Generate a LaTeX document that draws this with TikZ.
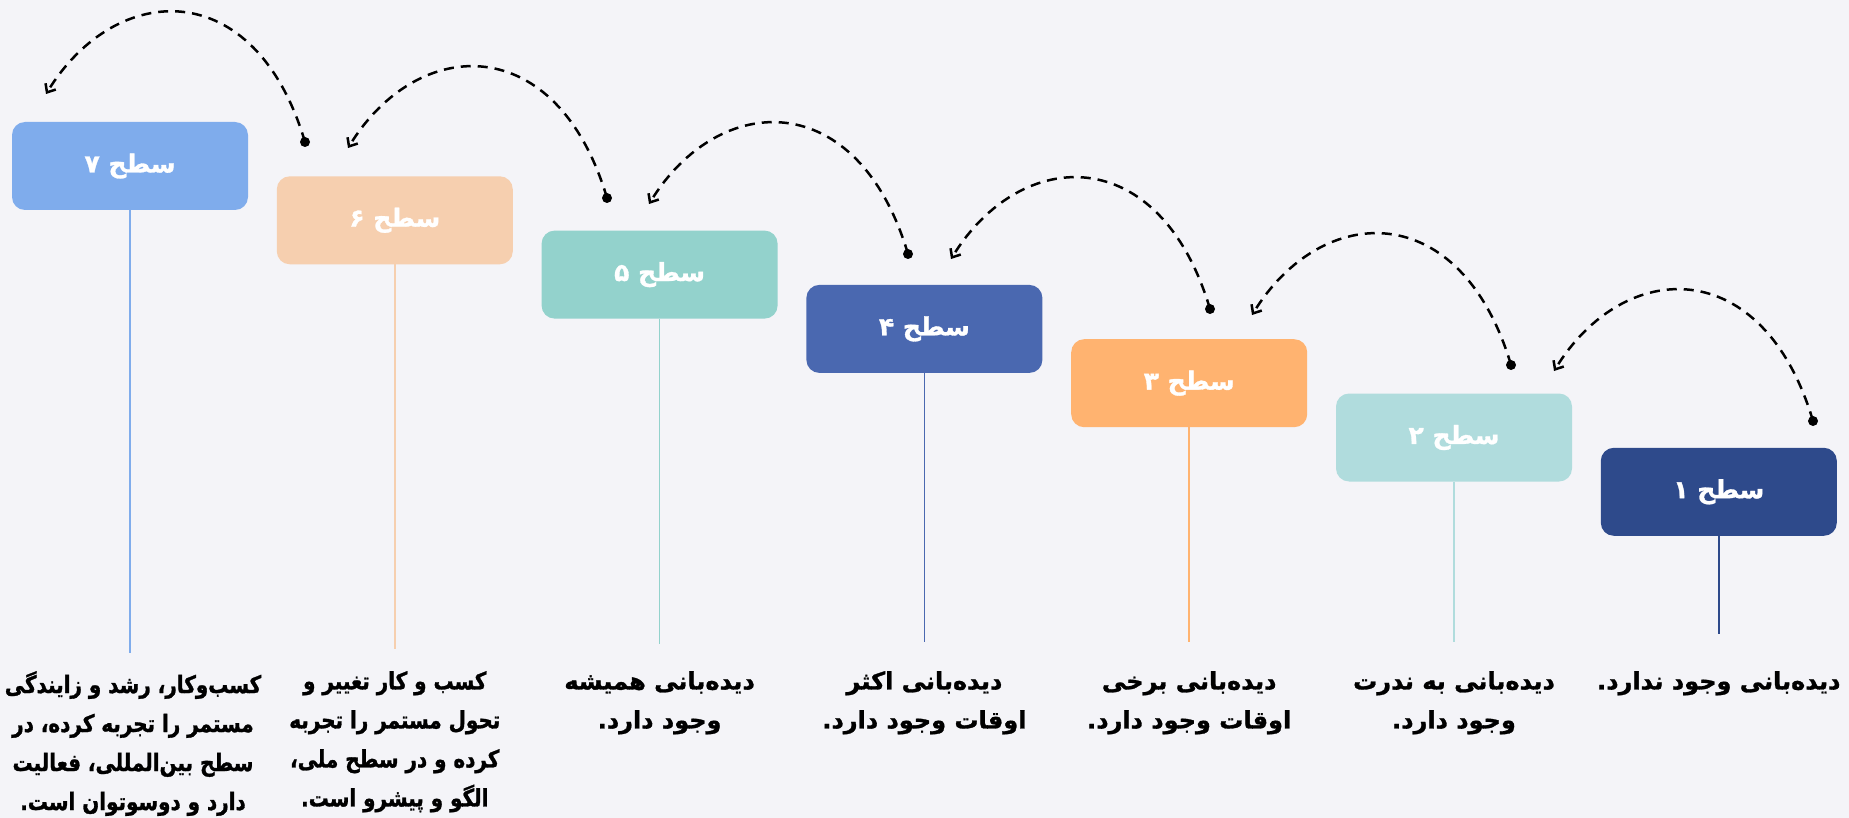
\documentclass[tikz,border=0pt]{standalone}
\usepackage{fontspec}
\usetikzlibrary{arrows.meta}
\TeXXeTstate=1
\newfontfamily\fafont[Script=Arabic, BoldFeatures={FakeBold=1.2}]{DejaVu Sans}
\newfontfamily\fanarrow[Script=Arabic, FakeStretch=0.83, BoldFeatures={FakeBold=1.2}]{DejaVu Sans}
\newcommand\fatxt[1]{\beginR #1\endR}
\definecolor{bgc}{HTML}{F4F4F8}
\definecolor{cvii}{HTML}{7FACEC}
\definecolor{cvi}{HTML}{F6CFAF}
\definecolor{cv}{HTML}{93D2CC}
\definecolor{civ}{HTML}{4A68B0}
\definecolor{ciii}{HTML}{FFB370}
\definecolor{cii}{HTML}{B0DCDD}
\definecolor{ci}{HTML}{2E4A8B}
\begin{document}
\begin{tikzpicture}[x=1pt,y=-1pt,
  levelbox/.style={rounded corners=13pt, minimum width=236pt, minimum height=88pt, inner sep=0pt, fill=#1, text=white, font=\fafont\bfseries\fontsize{25}{30}\selectfont},
  stem/.style={draw=#1, line width=1.5pt},
  desc/.style={align=center, anchor=north, inner sep=0pt, font=\fafont\bfseries\fontsize{24}{39}\selectfont},
  narrowdesc/.style={desc, font=\fanarrow\bfseries\fontsize{24}{39}\selectfont},
  dotnode/.style={circle, fill=black, inner sep=0pt, minimum size=10pt},
  hop/.style={line width=2.5pt, dash pattern=on 10pt off 7pt, -{Straight Barb[length=7pt,width=12pt]}}
]
\useasboundingbox (0,0) rectangle (1849,818);
\fill[bgc] (0,0) rectangle (1849,818);

% boxes
\node[levelbox=cvii] (b7) at (130,166) {\fatxt{سطح ۷}};
\node[levelbox=cvi] (b6) at (394.8,220.3) {\fatxt{سطح ۶}};
\node[levelbox=cv] (b5) at (659.6,274.6) {\fatxt{سطح ۵}};
\node[levelbox=civ] (b4) at (924.4,328.9) {\fatxt{سطح ۴}};
\node[levelbox=ciii] (b3) at (1189.2,383.2) {\fatxt{سطح ۳}};
\node[levelbox=cii] (b2) at (1454,437.5) {\fatxt{سطح ۲}};
\node[levelbox=ci] (b1) at (1718.8,491.8) {\fatxt{سطح ۱}};

% stems
\coordinate (e7) at (130,653);
\coordinate (e6) at (394.8,649);
\coordinate (e5) at (659.6,644);
\coordinate (e4) at (924.4,642);
\coordinate (e3) at (1189.2,642);
\coordinate (e2) at (1454,642);
\coordinate (e1) at (1718.8,634);
\draw[stem=cvii] (b7.south) -- (e7);
\draw[stem=cvi] (b6.south) -- (e6);
\draw[stem=cv] (b5.south) -- (e5);
\draw[stem=civ] (b4.south) -- (e4);
\draw[stem=ciii] (b3.south) -- (e3);
\draw[stem=cii] (b2.south) -- (e2);
\draw[stem=ci] (b1.south) -- (e1);

% descriptions
\node[narrowdesc] (t7) at (133,671) {\fatxt{کسب‌وکار، رشد و زایندگی}\\\fatxt{مستمر را تجربه کرده، در}\\\fatxt{سطح بین‌المللی، فعالیت}\\\fatxt{دارد و دوسوتوان است.}};
\node[narrowdesc] (t6) at (394.8,671) {\fatxt{کسب و کار تغییر و}\\\fatxt{تحول مستمر را تجربه}\\\fatxt{کرده و در سطح ملی،}\\\fatxt{الگو و پیشرو است.}};
\node[desc] (t5) at (659.6,671) {\fatxt{دیده‌بانی همیشه}\\\fatxt{وجود دارد.}};
\node[desc] (t4) at (924.4,671) {\fatxt{دیده‌بانی اکثر}\\\fatxt{اوقات وجود دارد.}};
\node[desc] (t3) at (1189.2,671) {\fatxt{دیده‌بانی برخی}\\\fatxt{اوقات وجود دارد.}};
\node[desc] (t2) at (1454,671) {\fatxt{دیده‌بانی به ندرت}\\\fatxt{وجود دارد.}};
\node[desc] (t1) at (1718.8,671) {\fatxt{دیده‌بانی وجود ندارد.}};

% hop arcs
\node[dotnode] (d6) at (305,142) {};
\node[dotnode] (d5) at (607,198) {};
\node[dotnode] (d4) at (908,254) {};
\node[dotnode] (d3) at (1210,309) {};
\node[dotnode] (d2) at (1511,365) {};
\node[dotnode] (d1) at (1813,421) {};
\coordinate (a7) at (46,94);
\coordinate (a6) at (348,148);
\coordinate (a5) at (649,204);
\coordinate (a4) at (951,259);
\coordinate (a3) at (1252,315);
\coordinate (a2) at (1554,371);
\draw[hop] (d6.center) .. controls +(-50,-168) and +(70,-114) .. (a7);
\draw[hop] (d5.center) .. controls +(-50,-168) and +(70,-114) .. (a6);
\draw[hop] (d4.center) .. controls +(-50,-168) and +(70,-114) .. (a5);
\draw[hop] (d3.center) .. controls +(-50,-168) and +(70,-114) .. (a4);
\draw[hop] (d2.center) .. controls +(-50,-168) and +(70,-114) .. (a3);
\draw[hop] (d1.center) .. controls +(-50,-168) and +(70,-114) .. (a2);
\end{tikzpicture}
\end{document}
